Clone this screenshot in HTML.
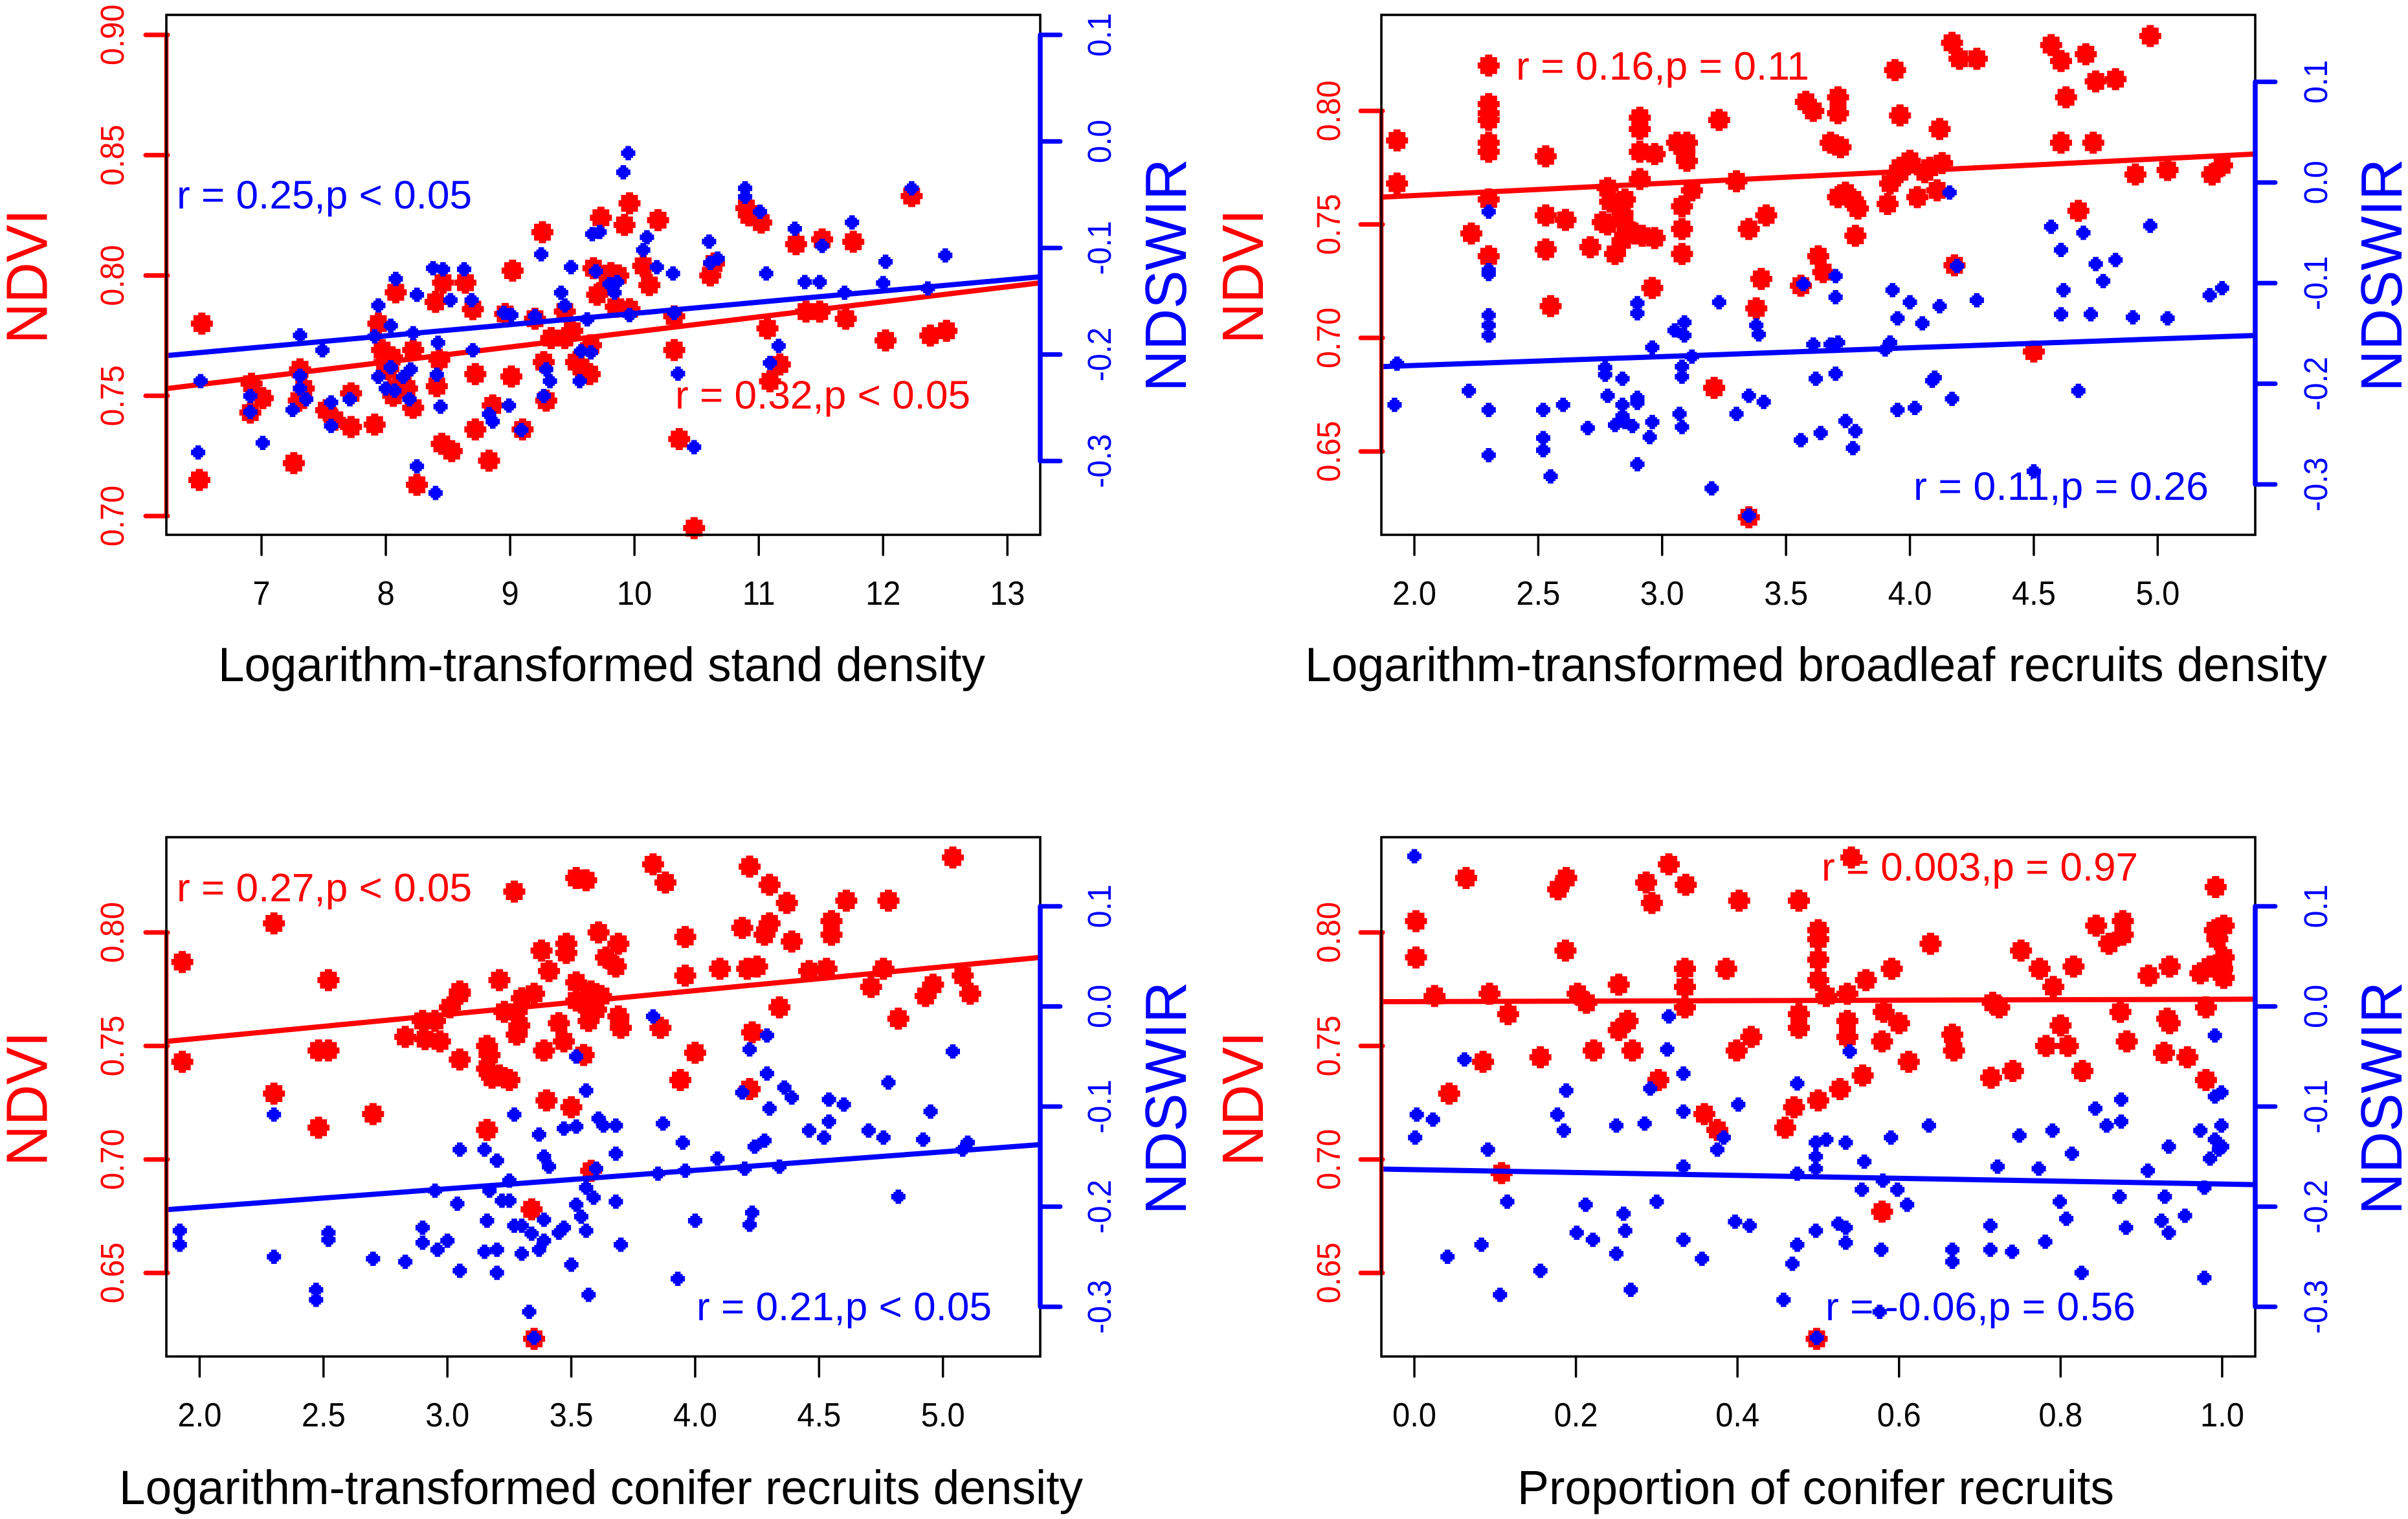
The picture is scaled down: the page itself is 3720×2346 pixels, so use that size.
<!DOCTYPE html>
<html lang="en">
<head>
<meta charset="utf-8">
<title>NDVI and NDSWIR correlations</title>
<style>
html,body{margin:0;padding:0;background:#fff;}
svg{display:block;font-family:"Liberation Sans",sans-serif;}
</style>
</head>
<body>
<svg id="figure" xmlns="http://www.w3.org/2000/svg" width="3720" height="2346" viewBox="0 0 3720 2346">
<rect x="0" y="0" width="3720" height="2346" fill="#fff"/>

<g id="panel-1">
  <g id="marks-1"></g>
  <rect x="257" y="23" width="1350" height="803" fill="none" stroke="#000" stroke-width="3.6"/>
  <g id="axes-1"></g>
  <text x="337" y="1052" font-size="74" textLength="1185" lengthAdjust="spacingAndGlyphs">Logarithm-transformed stand density</text>
  <text transform="translate(72.7,531) rotate(-90)" font-size="90" fill="#f00" textLength="208" lengthAdjust="spacingAndGlyphs">NDVI</text>
  <text transform="translate(1832,605) rotate(-90)" font-size="90" fill="#00f" textLength="360" lengthAdjust="spacingAndGlyphs">NDSWIR</text>
  <text x="273" y="322" font-size="61" fill="#00f" textLength="456" lengthAdjust="spacingAndGlyphs">r = 0.25,p &lt; 0.05</text>
  <text x="1043" y="631" font-size="61" fill="#f00" textLength="456" lengthAdjust="spacingAndGlyphs">r = 0.32,p &lt; 0.05</text>
</g>

<g id="panel-2">
  <g id="marks-2"></g>
  <rect x="2134" y="23" width="1350" height="803" fill="none" stroke="#000" stroke-width="3.6"/>
  <g id="axes-2"></g>
  <text x="2016" y="1052" font-size="74" textLength="1579" lengthAdjust="spacingAndGlyphs">Logarithm-transformed broadleaf recruits density</text>
  <text transform="translate(1951,531) rotate(-90)" font-size="90" fill="#f00" textLength="208" lengthAdjust="spacingAndGlyphs">NDVI</text>
  <text transform="translate(3710,605) rotate(-90)" font-size="90" fill="#00f" textLength="360" lengthAdjust="spacingAndGlyphs">NDSWIR</text>
  <text x="2342" y="123" font-size="61" fill="#f00" textLength="453" lengthAdjust="spacingAndGlyphs">r = 0.16,p = 0.11</text>
  <text x="2956" y="772" font-size="61" fill="#00f" textLength="456" lengthAdjust="spacingAndGlyphs">r = 0.11,p = 0.26</text>
</g>

<g id="panel-3">
  <g id="marks-3"></g>
  <rect x="257" y="1293" width="1350" height="802" fill="none" stroke="#000" stroke-width="3.6"/>
  <g id="axes-3"></g>
  <text x="184" y="2323" font-size="74" textLength="1489" lengthAdjust="spacingAndGlyphs">Logarithm-transformed conifer recruits density</text>
  <text transform="translate(72.7,1801) rotate(-90)" font-size="90" fill="#f00" textLength="208" lengthAdjust="spacingAndGlyphs">NDVI</text>
  <text transform="translate(1832,1876) rotate(-90)" font-size="90" fill="#00f" textLength="360" lengthAdjust="spacingAndGlyphs">NDSWIR</text>
  <text x="273" y="1392" font-size="61" fill="#f00" textLength="456" lengthAdjust="spacingAndGlyphs">r = 0.27,p &lt; 0.05</text>
  <text x="1076" y="2039" font-size="61" fill="#00f" textLength="456" lengthAdjust="spacingAndGlyphs">r = 0.21,p &lt; 0.05</text>
</g>

<g id="panel-4">
  <g id="marks-4"></g>
  <rect x="2134" y="1293" width="1350" height="802" fill="none" stroke="#000" stroke-width="3.6"/>
  <g id="axes-4"></g>
  <text x="2344" y="2323" font-size="74" textLength="922" lengthAdjust="spacingAndGlyphs">Proportion of conifer recruits</text>
  <text transform="translate(1951,1801) rotate(-90)" font-size="90" fill="#f00" textLength="208" lengthAdjust="spacingAndGlyphs">NDVI</text>
  <text transform="translate(3710,1876) rotate(-90)" font-size="90" fill="#00f" textLength="360" lengthAdjust="spacingAndGlyphs">NDSWIR</text>
  <text x="2814" y="1360" font-size="61" fill="#f00" textLength="489" lengthAdjust="spacingAndGlyphs">r = 0.003,p = 0.97</text>
  <text x="2820" y="2039" font-size="61" fill="#00f" textLength="479" lengthAdjust="spacingAndGlyphs">r = -0.06,p = 0.56</text>
</g>
</svg>

<script>
// ---------- tick labels ----------
var panel1XTicks = ["7","8","9","10","11","12","13"];
var panel2XTicks = ["2.0","2.5","3.0","3.5","4.0","4.5","5.0"];
var panel3XTicks = ["2.0","2.5","3.0","3.5","4.0","4.5","5.0"];
var panel4XTicks = ["0.0","0.2","0.4","0.6","0.8","1.0"];
var panel1NdviTicks = ["0.70","0.75","0.80","0.85","0.90"];
var lowerNdviTicks = ["0.65","0.70","0.75","0.80"];
var ndswirTicks = ["-0.3","-0.2","-0.1","0.0","0.1"];

// ---------- panel 1: stand density ----------
var panel1NdviX = [6.52,6.50,6.92,6.91,7.01,7.26,7.31,7.34,7.30,7.52,
7.59,7.72,7.72,7.91,7.94,7.97,8.05,8.02,8.06,8.17,
8.22,8.22,8.43,8.41,8.25,8.08,8.40,8.46,8.64,8.70,
8.45,8.53,8.72,8.72,8.83,8.86,9.01,9.02,8.96,9.10,
9.20,9.26,9.27,9.29,9.33,9.44,9.44,9.50,9.57,9.65,
9.64,9.67,9.70,9.73,9.81,9.87,9.85,9.96,9.92,9.96,
10.07,10.12,10.19,10.32,10.32,10.36,10.48,10.61,10.64,10.90,
10.92,11.02,11.07,11.09,11.17,11.30,11.38,11.49,11.51,11.70,
11.76,12.02,12.23,12.38,12.51,7.99,8.08,8.14,9.59,9.53,
9.78];
var panel1NdviY = [.780,.715,.755,.743,.749,.722,.761,.753,.748,.744,
.740,.751,.737,.738,.780,.769,.766,.761,.750,.753,
.745,.769,.765,.754,.713,.793,.789,.797,.797,.786,
.730,.727,.759,.736,.723,.746,.758,.802,.784,.736,
.782,.818,.764,.748,.774,.774,.785,.777,.762,.771,
.759,.803,.792,.824,.801,.800,.787,.786,.821,.830,
.804,.796,.823,.783,.769,.732,.695,.800,.805,.828,
.825,.822,.778,.756,.763,.813,.785,.785,.815,.782,
.814,.773,.833,.775,.777,.764,.753,.755,.760,.764,
.796];
var panel1NdswirX = [6.51,6.49,6.91,6.91,7.01,7.25,7.31,7.31,7.31,7.36,
7.49,7.56,7.56,7.71,7.94,7.91,7.94,8.00,8.04,8.04,
8.08,8.07,8.14,8.20,8.19,8.22,8.25,8.25,8.38,8.46,
8.42,8.41,8.44,8.40,8.52,8.63,8.69,8.70,8.83,8.86,
8.95,8.99,9.01,9.09,9.20,9.25,9.27,9.29,9.32,9.41,
9.44,9.49,9.56,9.57,9.62,9.65,9.66,9.69,9.72,9.80,
9.84,9.86,9.91,9.95,9.96,10.07,10.10,10.18,10.31,10.32,
10.35,10.48,10.60,10.61,10.67,10.89,10.89,11.01,11.06,11.09,
11.16,11.29,11.37,11.49,11.51,11.69,11.75,12.00,12.02,12.23,
12.36,12.50];
var panel1NdswirY = [-.225,-.292,-.239,-.254,-.283,-.252,-.182,-.220,-.232,-.242,
-.196,-.245,-.267,-.242,-.154,-.183,-.221,-.232,-.173,-.212,
-.129,-.234,-.221,-.214,-.242,-.180,-.144,-.305,-.119,-.120,
-.189,-.219,-.249,-.330,-.149,-.120,-.149,-.196,-.256,-.263,
-.161,-.248,-.163,-.271,-.164,-.106,-.239,-.214,-.225,-.142,
-.154,-.118,-.225,-.197,-.167,-.198,-.087,-.122,-.085,-.134,
-.142,-.132,-.029,-.011,-.163,-.102,-.090,-.118,-.124,-.161,
-.218,-.287,-.094,-.114,-.110,-.044,-.052,-.066,-.124,-.208,
-.192,-.082,-.132,-.132,-.098,-.142,-.076,-.133,-.113,-.044,
-.138,-.107];
var panel1FitX = [6.24,13.27];
var panel1NdviFit = [.753,.797];
var panel1NdswirFit = [-.201,-.127];

// ---------- panel 2: broadleaf recruits density ----------
var panel2NdviX = [1.93,1.93,2.23,2.30,2.30,2.30,2.30,2.30,2.30,2.30,
2.30,2.53,2.53,2.53,2.55,2.61,2.71,2.78,2.79,2.78,
2.81,2.85,2.84,2.85,2.84,2.89,2.92,2.97,2.91,2.91,
2.91,2.97,2.91,2.96,3.06,3.10,3.09,3.10,3.08,3.12,
3.08,3.08,3.23,3.30,3.35,3.42,3.40,3.38,3.21,3.35,
3.58,3.61,3.71,3.71,3.68,3.72,3.71,3.74,3.77,3.79,
3.78,3.63,3.65,3.56,3.91,3.92,3.96,3.94,3.96,4.00,
4.03,4.12,4.13,4.06,4.11,4.18,4.17,4.20,4.27,4.50,
4.57,4.61,4.63,4.61,4.71,4.74,4.68,4.75,4.83,4.91,
4.97,5.04,5.22,5.26,3.96,4.08,2.76];
var panel2NdviY = [.787,.768,.746,.820,.803,.799,.796,.786,.782,.761,
.736,.780,.754,.739,.714,.752,.740,.766,.760,.750,
.737,.761,.755,.750,.743,.746,.745,.744,.797,.792,
.782,.781,.770,.722,.786,.786,.782,.778,.758,.765,
.748,.737,.796,.769,.748,.754,.726,.713,.678,.621,
.804,.800,.806,.799,.786,.784,.762,.764,.761,.757,
.745,.736,.729,.723,.759,.768,.775,.818,.798,.778,
.762,.792,.777,.773,.765,.732,.830,.823,.823,.694,
.829,.822,.806,.786,.825,.786,.756,.813,.814,.772,
.833,.774,.772,.776,.773,.775,.751];
var panel2NdswirX = [1.93,1.92,2.22,2.30,2.30,2.30,2.30,2.30,2.30,2.30,
2.30,2.52,2.52,2.52,2.55,2.60,2.70,2.77,2.77,2.78,
2.81,2.84,2.84,2.84,2.85,2.88,2.90,2.90,2.90,2.90,
2.90,2.96,2.96,2.95,3.05,3.09,3.09,3.12,3.08,3.08,
3.07,3.08,3.23,3.30,3.35,3.41,3.38,3.39,3.20,3.35,
3.56,3.57,3.61,3.62,3.64,3.68,3.71,3.70,3.70,3.70,
3.74,3.78,3.77,3.90,3.92,3.93,3.95,3.95,4.00,4.02,
4.05,4.09,4.10,4.12,4.16,4.19,4.17,4.27,4.50,4.57,
4.61,4.62,4.61,4.70,4.73,4.68,4.75,4.78,4.83,4.90,
4.97,5.04,5.21,5.26];
var panel2NdswirY = [-.180,-.221,-.207,-.029,-.087,-.091,-.132,-.142,-.152,-.226,
-.271,-.226,-.254,-.266,-.292,-.221,-.244,-.184,-.191,-.212,
-.241,-.195,-.221,-.232,-.238,-.242,-.214,-.219,-.120,-.130,
-.280,-.164,-.238,-.253,-.147,-.139,-.152,-.173,-.183,-.193,
-.230,-.243,-.119,-.230,-.212,-.218,-.142,-.151,-.304,-.331,
-.256,-.101,-.161,-.195,-.249,-.161,-.159,-.093,-.114,-.190,
-.237,-.247,-.264,-.166,-.159,-.107,-.135,-.226,-.119,-.224,
-.140,-.197,-.194,-.123,-.010,-.083,-.215,-.117,-.287,-.044,
-.067,-.107,-.131,-.050,-.131,-.207,-.081,-.098,-.077,-.134,
-.043,-.135,-.112,-.105];
var panel2FitX = [1.867,5.393];
var panel2NdviFit = [.762,.781];
var panel2NdswirFit = [-.183,-.152];

// ---------- panel 3: conifer recruits density ----------
var panel3NdviX = [1.93,1.93,2.30,2.30,2.48,2.52,2.52,2.48,2.70,2.83,
2.90,2.95,2.91,2.97,3.01,3.05,3.05,3.16,3.17,3.16,
3.18,3.21,3.25,3.16,3.21,3.23,3.28,3.29,3.28,3.30,
3.35,3.34,3.35,3.38,3.39,3.41,3.40,3.45,3.47,3.48,
3.48,3.50,3.52,3.52,3.55,3.52,3.56,3.57,3.60,3.62,
3.58,3.27,3.61,3.64,3.69,3.68,3.69,3.70,3.86,3.83,
3.88,3.94,3.96,3.96,4.00,4.10,4.19,4.21,4.25,4.23,
4.22,4.22,4.30,4.30,4.28,4.37,4.39,4.34,4.46,4.53,
4.55,4.55,4.61,4.71,4.76,4.78,4.82,4.93,4.96,5.04,
5.08,5.11,3.56,3.58,3.05];
var panel3NdviY = [.787,.743,.804,.729,.748,.779,.748,.714,.720,.754,
.761,.761,.753,.752,.767,.773,.744,.750,.746,.740,
.736,.737,.735,.713,.779,.765,.765,.759,.755,.771,
.773,.678,.621,.792,.748,.783,.726,.760,.752,.795,
.791,.723,.778,.770,.746,.824,.823,.761,.766,.772,
.695,.818,.800,.789,.795,.785,.763,.758,.758,.830,
.822,.735,.798,.781,.747,.784,.802,.784,.785,.756,
.731,.829,.821,.804,.799,.813,.796,.767,.783,.784,
.805,.799,.814,.776,.784,.814,.762,.772,.777,.833,
.781,.773,.768,.774,.774];
var panel3NdswirX = [1.92,1.92,2.30,2.30,2.47,2.47,2.52,2.52,2.70,2.83,
2.90,2.90,2.95,2.96,3.00,3.04,3.05,3.05,3.15,3.16,
3.17,3.15,3.20,3.20,3.20,3.22,3.25,3.25,3.27,3.27,
3.30,3.30,3.34,3.33,3.35,3.37,3.37,3.39,3.41,3.39,
3.39,3.45,3.47,3.47,3.50,3.52,3.52,3.52,3.54,3.56,
3.56,3.56,3.57,3.59,3.60,3.61,3.63,3.68,3.68,3.68,
3.70,3.83,3.85,3.87,3.93,3.95,3.96,4.00,4.09,4.19,
4.20,4.22,4.22,4.23,4.24,4.28,4.29,4.29,4.30,4.34,
4.36,4.39,4.46,4.52,4.54,4.54,4.60,4.70,4.76,4.78,
4.82,4.92,4.95,5.04,5.08,5.10];
var panel3NdswirY = [-.224,-.238,-.108,-.250,-.283,-.293,-.226,-.233,-.252,-.255,
-.221,-.236,-.184,-.243,-.234,-.197,-.143,-.264,-.143,-.214,
-.184,-.245,-.243,-.154,-.266,-.194,-.194,-.174,-.108,-.219,
-.219,-.247,-.227,-.305,-.331,-.128,-.243,-.150,-.160,-.213,
-.234,-.226,-.221,-.122,-.258,-.050,-.120,-.198,-.210,-.084,
-.181,-.224,-.288,-.191,-.162,-.112,-.119,-.119,-.147,-.195,
-.238,-.010,-.167,-.117,-.272,-.136,-.164,-.214,-.152,-.086,
-.162,-.043,-.218,-.206,-.140,-.134,-.029,-.067,-.102,-.160,
-.081,-.091,-.124,-.131,-.093,-.115,-.098,-.124,-.131,-.076,
-.190,-.133,-.105,-.045,-.143,-.136];
var panel3FitX = [1.867,5.393];
var panel3NdviFit = [.752,.789];
var panel3NdswirFit = [-.203,-.138];

// ---------- panel 4: proportion of conifer recruits ----------
var panel4NdviX = [.002,.002,.025,.043,.064,.085,.093,.116,.108,.156,
.178,.188,.187,.202,.213,.222,.253,.253,.264,.270,
.302,.287,.294,.315,.336,.335,.335,.335,.359,.375,
.386,.399,.402,.417,.459,.470,.476,.476,.476,.500,
.500,.500,.500,.500,.510,.527,.536,.536,.536,.541,
.555,.559,.579,.579,.581,.591,.600,.612,.639,.666,
.668,.716,.724,.714,.741,.751,.774,.782,.791,.800,
.809,.816,.827,.844,.860,.874,.877,.877,.882,.909,
.928,.932,.935,.935,.957,.973,.980,.980,.992,.994,
1.002,1.002,1.002,.498,.985,1.000,.991];
var panel4NdviY = [.805,.789,.772,.729,.824,.743,.773,.764,.694,.745,
.819,.824,.792,.773,.769,.748,.777,.757,.761,.748,
.735,.822,.813,.830,.821,.784,.776,.767,.720,.713,
.784,.748,.814,.754,.714,.723,.764,.758,.814,.801,
.797,.788,.779,.726,.772,.731,.773,.761,.754,.833,
.737,.779,.752,.677,.765,.784,.760,.743,.795,.755,
.748,.769,.767,.736,.739,.792,.784,.750,.776,.759,
.750,.785,.739,.803,.795,.765,.805,.799,.752,.781,
.747,.762,.785,.760,.745,.782,.767,.735,.820,.797,
.803,.789,.780,.621,.785,.784,.801];
var panel4NdswirX = [0,.003,.001,.023,.041,.062,.083,.091,.106,.115,
.156,.177,.185,.188,.201,.212,.221,.250,.250,.259,
.261,.268,.285,.292,.300,.315,.313,.333,.333,.333,
.333,.356,.375,.383,.397,.401,.415,.457,.468,.474,
.474,.474,.497,.497,.497,.497,.498,.510,.525,.534,
.534,.534,.539,.554,.557,.576,.578,.580,.590,.598,
.610,.637,.666,.666,.713,.713,.722,.740,.749,.773,
.781,.790,.799,.807,.814,.826,.843,.857,.873,.875,
.875,.881,.908,.925,.929,.934,.934,.954,.973,.978,
.978,.985,.991,.991,.991,.999,.999,.996,1.000];
var panel4NdswirY = [.150,-.108,-.131,-.113,-.250,-.053,-.238,-.143,-.288,-.195,
-.264,-.108,-.124,-.084,-.226,-.198,-.233,-.247,-.119,-.207,
-.224,-.283,-.117,-.082,-.195,-.010,-.043,-.067,-.105,-.160,
-.233,-.252,-.143,-.131,-.215,-.098,-.219,-.293,-.257,-.077,
-.167,-.238,-.136,-.150,-.162,-.224,-.331,-.133,-.217,-.221,
-.136,-.236,-.045,-.183,-.155,-.305,-.243,-.174,-.131,-.183,
-.198,-.119,-.243,-.255,-.219,-.243,-.160,-.245,-.129,-.162,
-.235,-.124,-.195,-.212,-.147,-.266,-.102,-.119,-.190,-.093,
-.115,-.221,-.164,-.214,-.190,-.140,-.226,-.209,-.124,-.181,
-.271,-.152,-.133,-.090,-.029,-.086,-.119,-.143,-.140];
var panel4FitX = [-.041,1.041];
var panel4NdviFit = [.7695,.7706];
var panel4NdswirFit = [-.1624,-.178];

// ---------- drawing ----------
var NS = 'http://www.w3.org/2000/svg';
var RED = '#ff0000', BLUE = '#0000ff';
var RED_MARK = 'M-5.5,-17H5.5V-13H13V-4.7H17V4.7H13V13H5.5V17H-5.5V13H-13V4.7H-17V-4.7H-13V-13H-5.5Z';
var BLUE_MARK = 'M-4.3,-11H4.3V-7.3H7.5V-4.3H11V4.3H7.5V7.3H4.3V11H-4.3V7.3H-7.5V4.3H-11V-4.3H-7.5V-7.3H-4.3Z';

function linearScale(v0, p0, v1, p1) {
  return function (v) { return p0 + (v - v0) * (p1 - p0) / (v1 - v0); };
}
function make(tag, parent, attrs) {
  var el = document.createElementNS(NS, tag);
  for (var k in attrs) { el.setAttribute(k, attrs[k]); }
  parent.appendChild(el);
  return el;
}
function points(parent, xs, ys, sx, sy, shape, color, name) {
  for (var i = 0; i < xs.length; i++) {
    var el = make('path', parent, {
      d: shape, fill: color,
      transform: 'translate(' + sx(xs[i]).toFixed(1) + ',' + sy(ys[i]).toFixed(1) + ')'
    });
    
    
  }
}
function fitLine(parent, fx, fy, sx, sy, color, name) {
  var el = make('line', parent, {
    x1: sx(fx[0]), y1: sy(fy[0]), x2: sx(fx[1]), y2: sy(fy[1]),
    stroke: color, 'stroke-width': 8
  });
  
  
}
function drawPanel(c) {
  var marks = document.getElementById('marks-' + c.id);
  var axes = document.getElementById('axes-' + c.id);
  var sx = linearScale(c.xCal[0], c.xCal[1], c.xCal[2], c.xCal[3]);
  var sr = linearScale(c.redCal[0], c.redCal[1], c.redCal[2], c.redCal[3]);
  var sb = linearScale(c.blueCal[0], c.blueCal[1], c.blueCal[2], c.blueCal[3]);

  points(marks, c.ndviX, c.ndviY, sx, sr, RED_MARK, RED, 'ndvi-point');
  fitLine(marks, c.fitX, c.ndviFit, sx, sr, RED, 'ndvi-fit-line');
  points(marks, c.ndswirX, c.ndswirY, sx, sb, BLUE_MARK, BLUE, 'ndswir-point');
  fitLine(marks, c.fitX, c.ndswirFit, sx, sb, BLUE, 'ndswir-fit-line');

  // x axis
  c.xTicks.forEach(function (label) {
    var v = parseFloat(label);
    var tick = make('line', axes, {
      x1: sx(v), x2: sx(v), y1: c.bottom, y2: c.bottom + 31,
      stroke: '#000', 'stroke-width': 3.5, 'stroke-linecap': 'round'
    });
    
    
    var t = make('text', axes, {
      transform: 'translate(' + sx(v) + ',' + (c.bottom + 108) + ') scale(.94,1)',
      'text-anchor': 'middle', 'font-size': 52, fill: '#000'
    });
    
    
    t.textContent = label;
  });

  // red NDVI axis sits underneath the black frame
  var rv = c.redTicks.map(parseFloat);
  var redLine = make('line', marks, {
    x1: c.left, x2: c.left, y1: sr(rv[0]), y2: sr(rv[rv.length - 1]),
    stroke: RED, 'stroke-width': 6.5
  });
  
  
  c.redTicks.forEach(function (label) {
    var v = parseFloat(label);
    var tick = make('line', marks, {
      x1: c.left - 32, x2: c.left + 2, y1: sr(v), y2: sr(v),
      stroke: RED, 'stroke-width': 7, 'stroke-linecap': 'round'
    });
    
    
    var t = make('text', axes, {
      transform: 'translate(' + c.redLabelX + ',' + sr(v) + ') rotate(-90) scale(.95,1)',
      'text-anchor': 'middle', 'font-size': 51, fill: RED
    });
    
    
    t.textContent = label;
  });

  // blue NDSWIR axis
  var bv = c.blueTicks.map(parseFloat);
  var blueLine = make('line', axes, {
    x1: c.right, x2: c.right, y1: sb(bv[0]), y2: sb(bv[bv.length - 1]),
    stroke: BLUE, 'stroke-width': 7.5, 'stroke-linecap': 'round'
  });
  
  
  c.blueTicks.forEach(function (label) {
    var v = parseFloat(label);
    var tick = make('line', axes, {
      x1: c.right, x2: c.right + 31, y1: sb(v), y2: sb(v),
      stroke: BLUE, 'stroke-width': 7, 'stroke-linecap': 'round'
    });
    
    
    var t = make('text', axes, {
      transform: 'translate(' + c.blueLabelX + ',' + sb(v) + ') rotate(-90) scale(.95,1)',
      'text-anchor': 'middle', 'font-size': 51, fill: BLUE
    });
    
    
    t.textContent = label;
  });
}

drawPanel({
  id: 1, left: 257, right: 1607, bottom: 826, redLabelX: 191, blueLabelX: 1716,
  xCal: [7, 404, 13, 1556.3], redCal: [.9, 53.9, .7, 797], blueCal: [.1, 53.9, -.3, 712],
  ndviX: panel1NdviX, ndviY: panel1NdviY, ndswirX: panel1NdswirX, ndswirY: panel1NdswirY,
  fitX: panel1FitX, ndviFit: panel1NdviFit, ndswirFit: panel1NdswirFit,
  xTicks: panel1XTicks, redTicks: panel1NdviTicks, blueTicks: ndswirTicks
});
drawPanel({
  id: 2, left: 2134, right: 3484, bottom: 826, redLabelX: 2070, blueLabelX: 3595,
  xCal: [2, 2185, 5, 3333.3], redCal: [.8, 171.3, .65, 697.2], blueCal: [.1, 126.4, -.3, 748.1],
  ndviX: panel2NdviX, ndviY: panel2NdviY, ndswirX: panel2NdswirX, ndswirY: panel2NdswirY,
  fitX: panel2FitX, ndviFit: panel2NdviFit, ndswirFit: panel2NdswirFit,
  xTicks: panel2XTicks, redTicks: lowerNdviTicks, blueTicks: ndswirTicks
});
drawPanel({
  id: 3, left: 257, right: 1607, bottom: 2095, redLabelX: 191, blueLabelX: 1716,
  xCal: [2, 308.4, 5, 1456.7], redCal: [.8, 1440.1, .65, 1966], blueCal: [.1, 1399.7, -.3, 2018.3],
  ndviX: panel3NdviX, ndviY: panel3NdviY, ndswirX: panel3NdswirX, ndswirY: panel3NdswirY,
  fitX: panel3FitX, ndviFit: panel3NdviFit, ndswirFit: panel3NdswirFit,
  xTicks: panel3XTicks, redTicks: lowerNdviTicks, blueTicks: ndswirTicks
});
drawPanel({
  id: 4, left: 2134, right: 3484, bottom: 2095, redLabelX: 2070, blueLabelX: 3595,
  xCal: [0, 2185, 1, 3432.9], redCal: [.8, 1440.1, .65, 1966], blueCal: [.1, 1399.7, -.3, 2018.3],
  ndviX: panel4NdviX, ndviY: panel4NdviY, ndswirX: panel4NdswirX, ndswirY: panel4NdswirY,
  fitX: panel4FitX, ndviFit: panel4NdviFit, ndswirFit: panel4NdswirFit,
  xTicks: panel4XTicks, redTicks: lowerNdviTicks, blueTicks: ndswirTicks
});
</script>
</body>
</html>
